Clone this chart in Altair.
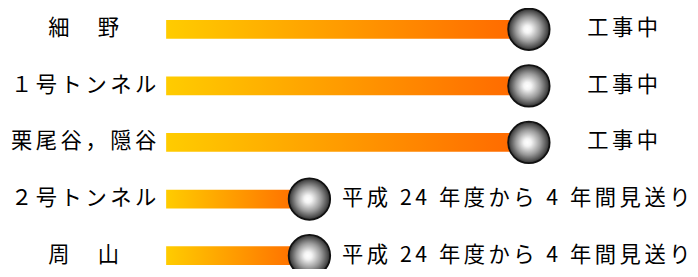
import altair as alt
import pandas as pd

sections = ["細　野", "１号トンネル", "栗尾谷，隠谷", "２号トンネル", "周　山"]
progress = [100, 100, 100, 39.5, 39.5]
status = ["工事中", "工事中", "工事中",
          "平成 24 年度から 4 年間見送り", "平成 24 年度から 4 年間見送り"]

df = pd.DataFrame({"section": sections, "progress": progress, "status": status})

FONT = "Noto Sans CJK JP"
FS = 21.5
SP = "\u2006"
SPACED = "join(split(datum.{f}, ''), '" + SP + "')"

y_enc = alt.Y("section:N", sort=sections,
              scale=alt.Scale(type="band", range=[-8.6, 277.6], paddingInner=0, paddingOuter=0),
              axis=alt.Axis(title=None, domain=False, ticks=False, grid=False,
                            labelAlign="center", labelPadding=84,
                            labelFont=FONT, labelFontSize=FS, labelColor="#000000",
                            labelLimit=300,
                            labelExpr="join(split(datum.label, ''), '" + SP + "')"))
x_enc = alt.X("progress:Q", scale=alt.Scale(domain=[0, 100], range=[0, 367]), axis=None)

bar_grad = alt.LinearGradient(
    gradient="linear", x1=0, y1=0, x2=1, y2=0,
    stops=[alt.GradientStop(offset=0, color="#FFCC00"),
           alt.GradientStop(offset=1, color="#FF6600")])

ball_grad = alt.RadialGradient(
    gradient="radial", x1=0.46, y1=0.5, r1=0, x2=0.5, y2=0.5, r2=0.5,
    stops=[alt.GradientStop(offset=0, color="#FFFFFF"),
           alt.GradientStop(offset=0.18, color="#F4F4F4"),
           alt.GradientStop(offset=0.6, color="#9A9A9A"),
           alt.GradientStop(offset=0.88, color="#505050"),
           alt.GradientStop(offset=1, color="#2A2A2A")])

base = alt.Chart(df)

bars = base.mark_bar(size=19, color=bar_grad, cornerRadius=0).encode(
    x=alt.X("zero:Q", scale=alt.Scale(domain=[0, 100], range=[0, 367]), axis=None),
    x2="progress:Q", y=y_enc
).transform_calculate(zero="0")

balls = base.mark_point(shape="circle", filled=True, fill=ball_grad, stroke="#111111",
                        strokeWidth=1.8, size=1764, opacity=1, fillOpacity=1).encode(
    x=x_enc, y=y_enc)

txt_work = base.transform_filter("datum.progress >= 100").transform_calculate(
    disp=SPACED.format(f="status")).mark_text(
    align="left", baseline="middle", dx=59, font=FONT, fontSize=FS, color="#000000").encode(
    x=x_enc, y=y_enc, text="disp:N")

txt_post = base.transform_filter("datum.progress < 100").transform_calculate(
    disp=SPACED.format(f="status")).mark_text(
    align="left", baseline="middle", dx=33, font=FONT, fontSize=FS, color="#000000").encode(
    x=x_enc, y=y_enc, text="disp:N")

chart = alt.layer(bars, balls, txt_work, txt_post).properties(
    width=530, height=261,
    padding={"left": 160, "top": 0, "right": 0, "bottom": 0},
    autosize=alt.AutoSizeParams(type="none"),
    background="#FFFFFF"
).configure_view(stroke=None)

chart.save("out.html", embed_options={"renderer": "svg", "actions": False})
